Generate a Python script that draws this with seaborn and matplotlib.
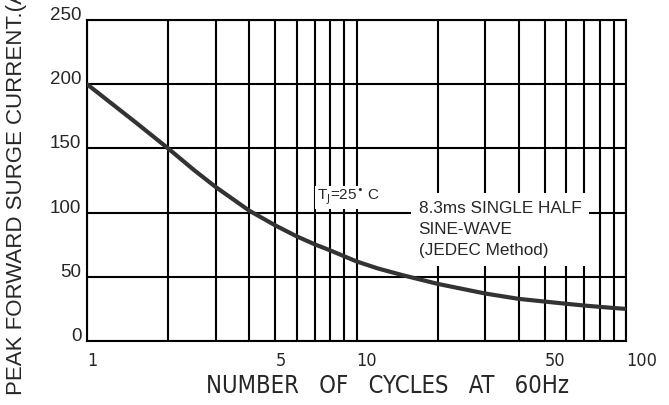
import matplotlib
matplotlib.use('Agg')
import matplotlib.pyplot as plt
import seaborn as sns
import pandas as pd

# values
cycles = [1, 1.5, 2, 2.5, 3, 4, 5, 6, 7, 8, 9, 10, 12, 15, 20, 30, 40, 50, 60, 70, 80, 90, 100]
current = [200, 171, 150, 133, 120, 101.5, 90, 81.5, 75.3, 70.5, 66, 62, 56.5, 51, 44.5, 37,
           32.8, 30.7, 29, 27.6, 26.6, 25.7, 25]

y_ticks = [0, 50, 100, 150, 200, 250]
x_grid = [1, 2, 3, 4, 5, 6, 7, 8, 9, 10, 20, 30, 40, 50, 60, 70, 80, 90, 100]
x_labels = {1: "1", 5: "5", 10: "10", 50: "50", 100: "100"}

df = pd.DataFrame({"cycles": cycles, "current": current})

sns.set_style("white")
plt.rcParams['font.family'] = ['Liberation Sans', 'DejaVu Sans']

fig = plt.figure(figsize=(6.69, 4.05), dpi=100)
ax = fig.add_axes([87 / 669, 64 / 405, 539 / 669, 321 / 405])

ax.set_xscale('log')
ax.set_xlim(1, 100)
ax.set_ylim(0, 250)

# grid
for xv in x_grid:
    ax.axvline(xv, color='black', linewidth=1.5, zorder=1)
for yv in y_ticks:
    ax.axhline(yv, color='black', linewidth=1.5, zorder=1)

sns.lineplot(data=df, x="cycles", y="current", color='#333333',
             linewidth=3, ax=ax, zorder=3)

for s in ax.spines.values():
    s.set_color('black')
    s.set_linewidth(1.5)

ax.set_xlabel("")
ax.set_ylabel("")
ax.tick_params(length=0)

# y tick labels, sitting just above their lines
ax.set_yticks(y_ticks)
ax.set_yticklabels([str(v) for v in y_ticks], fontsize=13.5)
for lab in ax.get_yticklabels():
    lab.set_verticalalignment('baseline')
ax.tick_params(axis='y', pad=4)

# x tick labels, left-aligned on their grid lines
ax.set_xticks(list(x_labels.keys()))
ax.set_xticks([], minor=True)
ax.set_xticklabels(list(x_labels.values()), fontsize=13,
                   family='DejaVu Sans', stretch='condensed')
for lab in ax.get_xticklabels():
    lab.set_horizontalalignment('left')
ax.tick_params(axis='x', pad=8)

ax.text(9.3, 104, "T$_{\\rm J}$=25$^{\\bullet}$ C", fontsize=11,
        ha='center', va='bottom', zorder=4,
        bbox=dict(boxstyle='square,pad=0.1', facecolor='white', edgecolor='none'))

ax.text(17.0, 109, "8.3ms SINGLE HALF\nSINE-WAVE\n(JEDEC Method)",
        fontsize=12.3, ha='left', va='top', linespacing=1.5, zorder=4,
        bbox=dict(boxstyle='square,pad=0.45', facecolor='white', edgecolor='none'))

fig.text(387 / 669, 1 - 386 / 405, "NUMBER   OF   CYCLES   AT   60Hz", fontsize=17,
         ha='center', va='center', family='DejaVu Sans', stretch='condensed')

fig.text(17 / 669, 10 / 405, "PEAK FORWARD SURGE CURRENT.(A)", fontsize=16,
         rotation=90, ha='center', va='bottom')

fig.savefig("out.png", dpi=100)
plt.close(fig)
